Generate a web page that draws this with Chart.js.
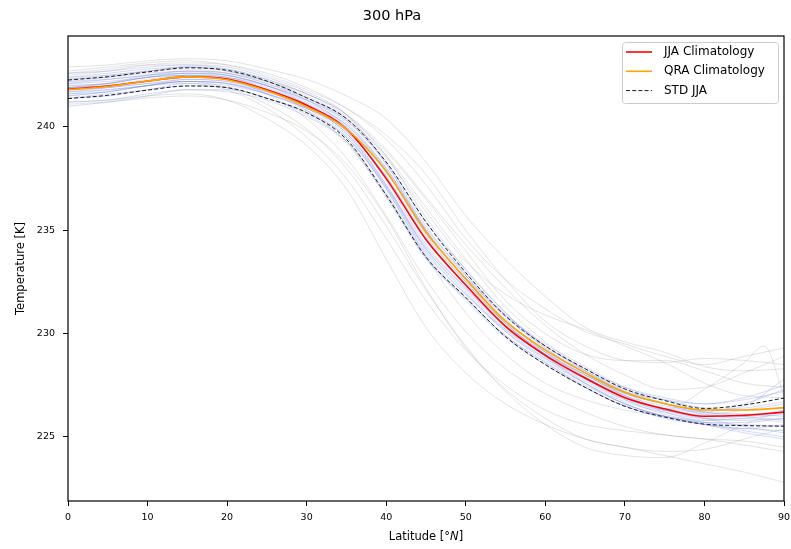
<!DOCTYPE html>
<html>
<head>
<meta charset="utf-8">
<script src="https://cdn.jsdelivr.net/npm/chart.js@4.4.1/dist/chart.umd.min.js"></script>
<style>
  html, body { margin: 0; padding: 0; background: #fff; }
  #wrap { width: 791px; height: 549px; }
</style>
</head>
<body>
<div id="wrap"><canvas id="chart" width="791" height="549"></canvas></div>
<script>
"use strict";

// ── Data ──────────────────────────────────────────────────────────────
const lat = [0, 5, 10, 15, 20, 25, 30, 35, 40, 45, 50, 55, 60, 65, 70, 75, 80, 85, 90];

const jjaClim  = [241.82, 241.98, 242.22, 242.42, 242.32, 241.80, 241.05, 239.90, 237.50, 234.55, 232.35, 230.35, 228.95, 227.85, 226.90, 226.36, 226.00, 226.05, 226.20];
const qraClim  = [241.80, 241.96, 242.22, 242.42, 242.28, 241.75, 240.98, 239.90, 237.85, 234.90, 232.65, 230.60, 229.20, 228.10, 227.15, 226.62, 226.30, 226.30, 226.42];
const stdUpper = [242.27, 242.43, 242.66, 242.86, 242.74, 242.22, 241.41, 240.40, 238.30, 235.40, 232.95, 230.85, 229.40, 228.30, 227.32, 226.76, 226.38, 226.55, 226.88];
const stdLower = [241.37, 241.53, 241.78, 241.98, 241.90, 241.38, 240.69, 239.40, 236.70, 233.70, 231.75, 229.85, 228.50, 227.40, 226.48, 225.96, 225.62, 225.55, 225.52];

// individual JJA seasons (thin blue)
const jjaYears = [
  [242.3, 242.5, 242.7, 242.9, 242.8, 242.3, 241.6, 240.6, 238.6, 235.6, 233.1, 231.0, 229.4, 228.3, 227.4, 226.9, 226.6, 226.8, 227.2],
  [241.4, 241.6, 241.8, 242.0, 241.9, 241.4, 240.6, 239.3, 236.6, 233.6, 231.7, 229.9, 228.6, 227.4, 226.5, 225.9, 225.6, 225.4, 225.3],
  [242.0, 242.1, 242.4, 242.6, 242.5, 242.0, 241.3, 240.2, 238.0, 235.0, 232.6, 230.6, 229.1, 227.9, 226.9, 226.2, 225.8, 225.9, 226.1],
  [241.6, 241.8, 242.0, 242.2, 242.1, 241.6, 240.8, 239.5, 237.0, 233.9, 231.9, 230.2, 229.0, 228.0, 227.1, 226.6, 226.3, 226.4, 226.7],
  [242.6, 242.7, 242.9, 243.0, 242.9, 242.4, 241.7, 240.6, 238.2, 235.0, 232.6, 230.6, 229.2, 228.2, 227.3, 226.6, 226.1, 226.0, 226.2],
  [241.2, 241.3, 241.6, 241.8, 241.7, 241.3, 240.5, 239.3, 236.8, 233.7, 231.6, 229.8, 228.5, 227.4, 226.5, 226.0, 225.7, 225.7, 225.9],
  [241.9, 242.1, 242.4, 242.6, 242.5, 242.0, 241.2, 240.1, 237.9, 234.9, 232.7, 230.9, 229.5, 228.4, 227.4, 226.8, 226.4, 226.3, 226.4],
  [241.7, 241.8, 242.0, 242.3, 242.2, 241.7, 240.9, 239.6, 237.0, 233.8, 231.7, 229.9, 228.6, 227.5, 226.6, 226.0, 225.7, 225.6, 225.5],
  [242.2, 242.3, 242.5, 242.7, 242.6, 242.1, 241.3, 240.0, 237.4, 234.3, 232.2, 230.3, 228.9, 227.7, 226.8, 226.3, 226.1, 226.3, 226.6],
  [241.5, 241.7, 242.0, 242.2, 242.1, 241.7, 241.0, 240.0, 237.9, 235.0, 232.8, 230.8, 229.3, 228.1, 227.0, 226.3, 225.9, 225.8, 225.9],
  [242.1, 242.2, 242.4, 242.5, 242.3, 241.8, 241.0, 239.7, 237.1, 234.0, 231.9, 230.1, 228.8, 227.8, 226.9, 226.4, 226.2, 226.6, 227.3],
  [241.4, 241.5, 241.8, 242.1, 242.0, 241.6, 240.9, 239.8, 237.6, 234.7, 232.5, 230.5, 228.9, 227.6, 226.6, 226.0, 225.6, 225.3, 225.0],
  [242.4, 242.6, 242.8, 242.9, 242.7, 242.2, 241.4, 240.3, 238.2, 235.2, 232.8, 230.7, 229.1, 228.0, 227.1, 226.6, 226.3, 226.5, 227.8],
  [241.8, 241.9, 242.1, 242.3, 242.2, 241.8, 241.1, 240.1, 238.0, 235.1, 232.9, 230.9, 229.4, 228.2, 227.2, 226.6, 226.2, 226.0, 225.8],
  [241.0, 241.2, 241.5, 241.8, 241.8, 241.4, 240.7, 239.5, 237.1, 234.1, 232.0, 230.1, 228.7, 227.6, 226.7, 226.2, 225.9, 226.0, 226.3],
  [242.3, 242.4, 242.6, 242.7, 242.5, 242.0, 241.1, 239.8, 237.2, 234.1, 232.1, 230.2, 228.8, 227.6, 226.6, 226.0, 225.6, 225.2, 224.9],
  [241.7, 241.9, 242.2, 242.5, 242.4, 242.0, 241.3, 240.3, 238.3, 235.4, 233.1, 231.0, 229.3, 228.1, 227.2, 226.8, 226.6, 226.9, 227.5],
  [241.9, 242.0, 242.2, 242.4, 242.3, 241.8, 241.0, 239.7, 237.2, 234.2, 232.2, 230.4, 229.1, 228.0, 227.0, 226.3, 225.9, 225.5, 225.2],
  [242.1, 242.3, 242.5, 242.6, 242.4, 241.9, 241.1, 239.9, 237.6, 234.6, 232.4, 230.5, 229.0, 227.9, 227.0, 226.5, 226.2, 226.1, 226.0],
  [241.6, 241.7, 242.0, 242.2, 242.1, 241.6, 240.9, 239.9, 237.8, 234.8, 232.5, 230.5, 229.0, 227.8, 226.8, 226.1, 225.7, 225.4, 225.6]
];

// QRA event seasons (thin grey)
const qraYears = [
  [241.2, 241.3, 241.5, 241.6, 241.3, 240.4, 239.1, 237.0, 233.6, 230.3, 228.1, 226.6, 225.6, 224.9, 224.5, 224.3, 224.4, 224.9, 225.4],
  [241.5, 241.7, 242.0, 242.1, 241.8, 240.9, 239.5, 237.5, 234.6, 231.6, 229.2, 227.5, 226.3, 225.6, 225.3, 225.1, 224.9, 224.8, 224.5],
  [241.8, 241.9, 242.1, 242.2, 241.9, 241.1, 239.9, 238.0, 235.2, 232.1, 229.4, 227.2, 225.6, 224.5, 224.1, 224.0, 224.7, 225.6, 226.3],
  [242.0, 242.1, 242.4, 242.5, 242.3, 241.6, 240.4, 238.5, 235.7, 232.6, 230.1, 228.3, 227.1, 226.2, 225.5, 225.1, 224.9, 224.6, 224.3],
  [241.1, 241.2, 241.4, 241.5, 241.3, 240.7, 239.8, 238.2, 235.6, 232.2, 229.3, 227.3, 225.9, 224.9, 224.5, 224.1, 223.7, 223.3, 222.8],
  [241.9, 242.0, 242.3, 242.5, 242.4, 241.8, 240.8, 239.2, 236.7, 233.7, 231.0, 229.0, 227.6, 226.8, 226.3, 226.0, 225.8, 225.9, 225.7],
  [242.9, 243.0, 243.2, 243.3, 243.2, 242.8, 242.3, 241.5, 240.4, 238.3, 235.7, 233.6, 231.8, 230.3, 229.6, 229.1, 228.4, 228.2, 228.3],
  [242.5, 242.7, 243.0, 243.1, 243.0, 242.6, 241.9, 240.9, 239.4, 237.2, 234.6, 232.6, 231.2, 230.1, 229.5, 228.9, 228.5, 228.9, 229.3],
  [242.6, 242.8, 243.0, 243.0, 242.8, 242.3, 241.6, 240.5, 238.8, 236.5, 234.0, 231.6, 230.0, 229.0, 228.7, 228.7, 228.2, 227.6, 227.4],
  [242.4, 242.5, 242.7, 242.8, 242.6, 242.1, 241.4, 240.4, 238.5, 235.9, 233.5, 231.9, 230.9, 230.2, 229.4, 228.6, 227.6, 227.0, 226.9],
  [241.9, 242.1, 242.5, 242.7, 242.6, 242.2, 241.6, 240.6, 238.9, 236.6, 234.3, 232.2, 230.4, 229.0, 228.0, 227.3, 227.4, 228.1, 228.9],
  [242.7, 242.9, 243.1, 243.2, 243.0, 242.5, 241.8, 240.9, 239.6, 237.7, 235.0, 232.6, 230.6, 229.4, 228.7, 228.6, 228.8, 228.7, 228.5]
];

// one QRA season with a spike near the pole (extra point at 87.5)
const spikeLat  = [0, 5, 10, 15, 20, 25, 30, 35, 40, 45, 50, 55, 60, 65, 70, 75, 80, 85, 87.5, 90];
const spikeYear = [242.2, 242.4, 242.7, 242.9, 242.7, 242.2, 241.5, 240.4, 238.6, 236.1, 233.6, 231.3, 229.6, 228.2, 227.2, 226.3, 227.3, 228.6, 229.4, 227.0];

const xTicks = [0, 10, 20, 30, 40, 50, 60, 70, 80, 90];
const yTicks = [225, 230, 235, 240];

// ── Helpers ───────────────────────────────────────────────────────────
const FONT = "'DejaVu Sans', 'Liberation Sans', sans-serif";
const pts = (xs, ys) => xs.map((x, i) => ({ x, y: ys[i] }));

function thinLine(ys, color, order, xs) {
  return {
    data: pts(xs || lat, ys),
    borderColor: color,
    borderWidth: 0.9,
    pointRadius: 0,
    cubicInterpolationMode: 'monotone',
    order
  };
}

const datasets = [
  { label: 'JJA Climatology', data: pts(lat, jjaClim), borderColor: '#ff0000', borderWidth: 1.6,
    pointRadius: 0, cubicInterpolationMode: 'monotone', order: 2 },
  { label: 'QRA Climatology', data: pts(lat, qraClim), borderColor: '#ffa500', borderWidth: 1.6,
    pointRadius: 0, cubicInterpolationMode: 'monotone', order: 1 },
  { label: 'STD JJA', data: pts(lat, stdUpper), borderColor: '#1a1a1a', borderWidth: 1,
    borderDash: [4, 2.2], pointRadius: 0, cubicInterpolationMode: 'monotone', order: 3 },
  { label: 'STD JJA lower', data: pts(lat, stdLower), borderColor: '#1a1a1a', borderWidth: 1,
    borderDash: [4, 2.2], pointRadius: 0, cubicInterpolationMode: 'monotone', order: 3 }
];
jjaYears.forEach(ys => datasets.push(thinLine(ys, 'rgba(85,110,225,0.28)', 4)));
qraYears.forEach(ys => datasets.push(thinLine(ys, 'rgba(140,140,140,0.28)', 5)));
datasets.push(thinLine(spikeYear, 'rgba(140,140,140,0.28)', 5, spikeLat));

// ── Plugins: axes frame, legend box, x label with italic N ───────────
const frame = {
  id: 'frame',
  afterDatasetsDraw(chart) {
    const { ctx, chartArea: a } = chart;
    ctx.save();
    ctx.strokeStyle = '#000';
    ctx.lineWidth = 1.2;
    ctx.strokeRect(a.left, a.top, a.right - a.left, a.bottom - a.top);
    ctx.restore();
  }
};

const xLabel = {
  id: 'xLabel',
  afterDraw(chart) {
    const { ctx, chartArea: a } = chart;
    const parts = [['Latitude [°', 'normal'], ['N', 'italic'], [']', 'normal']];
    ctx.save();
    ctx.fillStyle = '#000';
    ctx.textBaseline = 'middle';
    ctx.textAlign = 'left';
    const widths = parts.map(([t, st]) => { ctx.font = st + ' 11.5px ' + FONT; return ctx.measureText(t).width; });
    let x = (a.left + a.right) / 2 - widths.reduce((s, w) => s + w, 0) / 2;
    parts.forEach(([t, st], i) => {
      ctx.font = st + ' 11.5px ' + FONT;
      ctx.fillText(t, x, 537);
      x += widths[i];
    });
    ctx.restore();
  }
};

const legendBox = {
  id: 'legendBox',
  afterDraw(chart) {
    const { ctx, chartArea: a } = chart;
    const w = 156, h = 61;
    const x0 = a.right - 6 - w, y0 = a.top + 6;
    ctx.save();
    ctx.fillStyle = 'rgba(255,255,255,0.8)';
    ctx.strokeStyle = '#cccccc';
    ctx.lineWidth = 1;
    ctx.beginPath();
    if (ctx.roundRect) ctx.roundRect(x0 + 0.5, y0 + 0.5, w, h, 3);
    else ctx.rect(x0 + 0.5, y0 + 0.5, w, h);
    ctx.fill();
    ctx.stroke();
    ctx.font = '12px ' + FONT;
    ctx.textBaseline = 'middle';
    ctx.textAlign = 'left';
    [0, 1, 2].forEach((di, row) => {
      const ds = chart.data.datasets[di];
      const y = y0 + 10 + row * 19.3;
      ctx.strokeStyle = ds.borderColor;
      ctx.lineWidth = ds.borderWidth;
      ctx.setLineDash(ds.borderDash || []);
      ctx.beginPath(); ctx.moveTo(x0 + 4, y); ctx.lineTo(x0 + 30, y); ctx.stroke();
      ctx.setLineDash([]);
      ctx.fillStyle = '#000';
      ctx.fillText(ds.label, x0 + 42, y);
    });
    ctx.restore();
  }
};

// ── Chart ─────────────────────────────────────────────────────────────
new Chart(document.getElementById('chart').getContext('2d'), {
  type: 'line',
  data: { datasets },
  options: {
    responsive: false,
    animation: false,
    events: [],
    layout: { padding: { left: 0, right: 7, top: 0, bottom: 0 } },
    plugins: {
      legend: { display: false },
      tooltip: { enabled: false },
      title: {
        display: true, text: '300 hPa', color: '#000',
        font: { family: FONT, size: 14.5, weight: 'normal' },
        padding: { top: 8, bottom: 10.6 }
      }
    },
    scales: {
      x: {
        type: 'linear', min: 0, max: 90,
        afterBuildTicks: s => { s.ticks = xTicks.map(v => ({ value: v })); },
        afterFit: s => { s.height = 48; s.paddingLeft = 0; s.paddingRight = 0; },
        border: { display: false },
        grid: { display: true, drawOnChartArea: false, drawTicks: true, tickLength: 5, color: '#000', lineWidth: 1 },
        ticks: { color: '#000', padding: 6, maxRotation: 0, font: { family: FONT, size: 9.5 } },
        title: { display: false }
      },
      y: {
        type: 'linear', min: 221.9, max: 244.4,
        afterBuildTicks: s => { s.ticks = yTicks.map(v => ({ value: v })); },
        afterFit: s => { s.width = 68; s.paddingTop = 0; s.paddingBottom = 0; },
        border: { display: false },
        grid: { display: true, drawOnChartArea: false, drawTicks: true, tickLength: 5, color: '#000', lineWidth: 1 },
        ticks: { color: '#000', padding: 8, font: { family: FONT, size: 9.5 } },
        title: { display: true, text: 'Temperature [K]', color: '#000',
                 font: { family: FONT, size: 11.5 }, padding: { top: 14, bottom: 0 } }
      }
    }
  },
  plugins: [frame, legendBox, xLabel]
});
</script>
</body>
</html>
